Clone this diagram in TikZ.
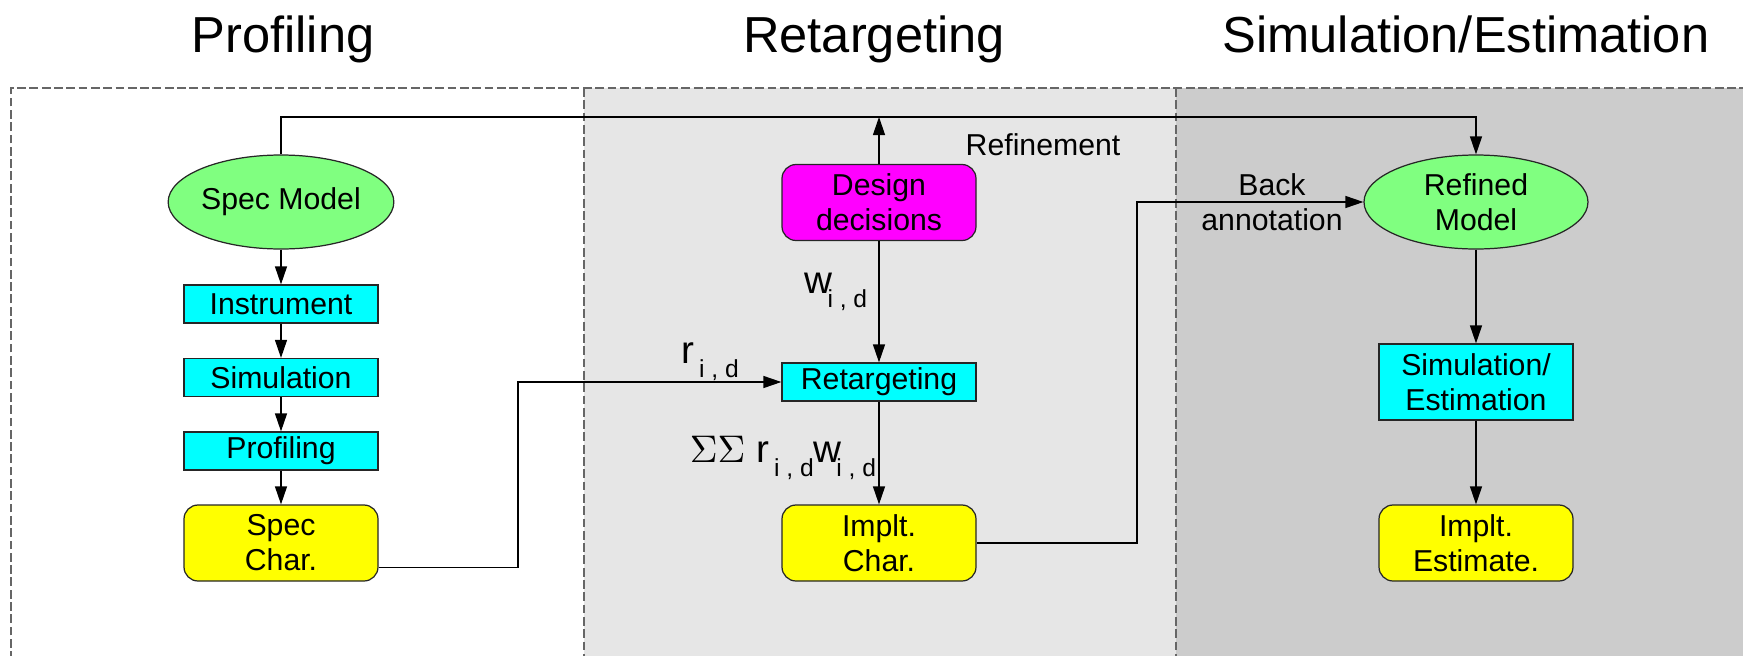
\documentclass[tikz,border=0pt]{standalone}
\usepackage{fontspec}
\setmainfont{Liberation Sans}
\usetikzlibrary{shapes.geometric}
\usetikzlibrary{arrows.meta}
\definecolor{modelgreen}{HTML}{80FF80}
\definecolor{stepcyan}{HTML}{00FFFF}
\definecolor{decmagenta}{HTML}{FF00FF}
\definecolor{charyellow}{HTML}{FFFF00}
\definecolor{retgray}{HTML}{E6E6E6}
\definecolor{simgray}{HTML}{CCCCCC}
\newcommand{\bigsym}[1]{{\fontsize{11}{12}\selectfont #1}}
\newcommand{\subid}{\raisebox{-4pt}{\fontsize{7}{8}\selectfont i , d}}

\begin{document}
\begin{tikzpicture}[line width=0.35pt,
  model/.style={ellipse, draw=black!85, fill=modelgreen, minimum width=2.24cm, minimum height=0.94cm, inner sep=0pt, align=center},
  stepbox/.style={rectangle, draw=black!85, fill=stepcyan, minimum width=1.94cm, minimum height=0.38cm, inner sep=0pt, align=center},
  charbox/.style={rectangle, rounded corners=4pt, draw=black!85, fill=charyellow, minimum width=1.94cm, minimum height=0.76cm, inner sep=0pt, align=center},
  flow/.style={-{Triangle[length=1.8mm,width=1.2mm]}},
  phase/.style={font=\fontsize{14.4}{17}\selectfont, anchor=base},
  border/.style={black!60, dash pattern=on 2.5pt off 1pt}]
\fontsize{8.6}{10}\selectfont
\useasboundingbox (0,0) rectangle (17.43,-6.55);
\clip (0,0) rectangle (17.43,-6.55);
% panels
\fill[retgray] (5.84,-0.88) rectangle (11.76,-6.6);
\fill[simgray] (11.76,-0.88) rectangle (17.5,-6.6);
\draw[border] (0.11,-6.6) -- (0.11,-0.88) -- (17.5,-0.88);
\draw[border] (5.84,-0.88) -- (5.84,-6.6);
\draw[border] (11.76,-0.88) -- (11.76,-6.6);
\node[phase] (tprof) at (2.83,-0.52) {Profiling};
\node[phase] (tret) at (8.74,-0.52) {Retargeting};
\node[phase] (tsim) at (14.66,-0.52) {Simulation/Estimation};
% profiling
\node[model] (specmodel) at (2.81,-2.02) {Spec Model};
\node[stepbox] (instr) at (2.81,-3.04) {Instrument};
\node[stepbox] (simul) at (2.81,-3.775) {Simulation};
\node[stepbox] (prof) at (2.81,-4.51) {Profiling};
\node[charbox] (specchar) at (2.81,-5.43) {Spec\\Char.};
% retargeting
\node[charbox, fill=decmagenta] (design) at (8.79,-2.025) {Design\\decisions};
\node[stepbox] (retarget) at (8.79,-3.82) {Retargeting};
\node[charbox] (implchar) at (8.79,-5.43) {Implt.\\Char.};
% simulation/estimation
\node[model] (refined) at (14.76,-2.02) {Refined\\Model};
\node[stepbox, minimum height=0.76cm] (simest) at (14.76,-3.82) {Simulation/\\Estimation};
\node[charbox] (implest) at (14.76,-5.43) {Implt.\\Estimate.};
\coordinate (topbus) at (8.79,-1.17);
\coordinate (rbend) at (5.18,-3.82);
\coordinate (abend) at (11.37,-2.02);
\draw[flow] (specmodel) -- (instr);
\draw[flow] (instr) -- (simul);
\draw[flow] (simul) -- (prof);
\draw[flow] (prof) -- (specchar);
\draw[flow] (specmodel.north) |- (topbus) -| (refined.north); % refinement loop
\draw[flow] (design.north) -- (topbus);
\draw[flow] (design) -- (retarget);
\draw[flow] (retarget) -- (implchar);
\draw[flow] (specchar.-14) -| (rbend) -- (retarget.west);
\draw[flow] (implchar.east) -| (abend) -- (refined.west); % back annotation
\draw[flow] (refined) -- (simest);
\draw[flow] (simest) -- (implest);
\node (refinelbl) at (10.43,-1.45) {Refinement};
\node (wlbl) at (8.36,-2.92) {\bigsym{w}\kern-1.5pt\subid};
\node (rlbl) at (7.10,-3.62) {\bigsym{r}\,\subid};
\node (sumlbl) at (7.83,-4.58) {\bigsym{$\Sigma\Sigma$ r}\,\subid\bigsym{w}\kern-1.5pt\subid};
\node[align=center] (backlbl) at (12.72,-2.02) {Back\\annotation};
\end{tikzpicture}
\end{document}
